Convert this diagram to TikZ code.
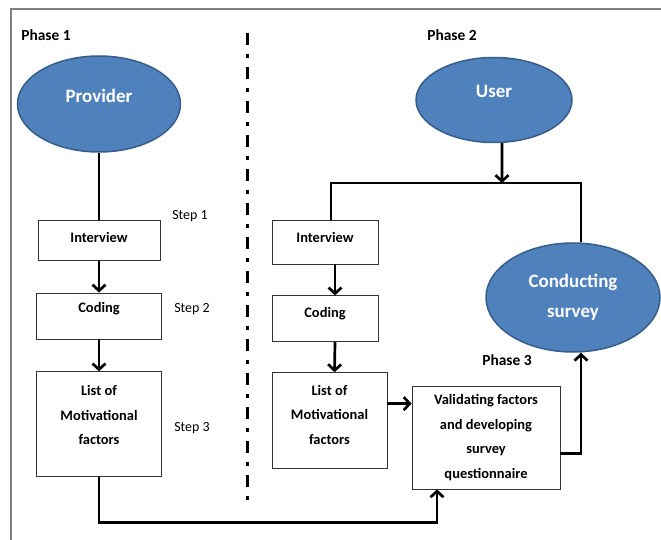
\documentclass[tikz,border=0pt]{standalone}
\usepackage{fontspec}
\setmainfont{Carlito}
\usepackage{xcolor}
\usetikzlibrary{arrows.meta,positioning,calc,shapes.geometric}
\definecolor{ovalfill}{HTML}{4F81BD}
\definecolor{ovaldraw}{HTML}{385D8A}

\begin{document}
\begin{tikzpicture}[x=1bp,y=-1bp,
  box/.style={draw=black!80,line width=0.8bp,align=center,inner sep=2bp,
              font=\fontsize{14.5}{24.5}\selectfont\bfseries},
  oval/.style={ellipse,draw=ovaldraw,line width=1.5bp,fill=ovalfill,text=white,
               align=center,inner sep=0pt,font=\fontsize{19}{30}\selectfont\bfseries},
  phase/.style={font=\fontsize{15.5}{18}\selectfont\bfseries},
  steplbl/.style={font=\fontsize{14}{16}\selectfont},
  conn/.style={line width=2.7bp},
  >={Straight Barb[length=6bp,width=13bp]},node distance=30bp]
\useasboundingbox (0,0) rectangle (661,540);
\draw[black!50,line width=1.5bp] (11,540) -- (11,9) -- (661,9);
\draw[line width=3bp,dash pattern=on 12bp off 9bp on 4bp off 9bp] (247,33) -- (247,500);

% phase 1
\node[phase] (ph1) at (46,35) {Phase 1};
\node[oval,minimum width=163bp,minimum height=96bp,text depth=16bp] (prov) at (99,104) {Provider};
\node[box,minimum width=122bp,minimum height=40bp,text depth=5bp,below=67bp of prov] (iv1) {Interview};
\node[box,minimum width=125bp,minimum height=46bp,text depth=17bp,below=32bp of iv1] (cod1) {Coding};
\node[box,minimum width=125bp,minimum height=105bp,text depth=18bp,below=32bp of cod1] (list1) {List of\\Motivational\\factors};
\node[steplbl] (s1) at (190,216) {Step 1};
\node[steplbl] (s2) at (192,309) {Step 2};
\node[steplbl] (s3) at (192,428) {Step 3};

% phase 2
\node[phase] (ph2) at (452,35) {Phase 2};
\node[oval,minimum width=156bp,minimum height=85bp,text depth=18bp] (user) at (494,100) {User};
\node[box,minimum width=106bp,minimum height=44bp,text depth=10bp] (iv2) at (325,242) {Interview};
\node[box,minimum width=106bp,minimum height=46bp,text depth=13bp,below=31bp of iv2] (cod2) {Coding};
\node[box,minimum width=115bp,minimum height=96bp,text depth=12bp,
      below=30bp of cod2.south west,anchor=north west] (list2) {List of\\Motivational\\factors};
\node[oval,minimum width=174bp,minimum height=109bp] (cond) at (573,297.5) {Conducting\\survey};

% phase 3
\node[phase] (ph3) at (507,360) {Phase 3};
\node[box,minimum width=148bp,minimum height=103bp] (valid) at (486,437.5) {Validating factors\\and developing\\survey\\questionnaire};

% connectors
\draw[conn] (prov.south) -- (iv1.north);
\draw[conn,->] (iv1) -- (cod1);
\draw[conn,->] (cod1) -- (list1);
\draw[conn,->] (list1.south) -- ++(0,45) -| ([xshift=-49bp]valid.south);
\coordinate (join) at (502,183);
\draw[conn,->] ([xshift=8bp]user.south) -- (join);
\draw[conn] ([xshift=6bp]iv2.north) |- (join) -| ([xshift=8bp]cond.north);
\draw[conn,->] ([xshift=10bp]iv2.south) -- ([xshift=10bp]cod2.north);
\draw[conn,->] ([xshift=10bp]cod2.south) -- ([xshift=5bp]list2.north);
\draw[conn,->] ([yshift=17bp]list2.east) coordinate (lv) -- (lv -| valid.west);
\draw[conn,->] ([yshift=-16bp]valid.east) -| ([xshift=8bp]cond.south);
\end{tikzpicture}
\end{document}
